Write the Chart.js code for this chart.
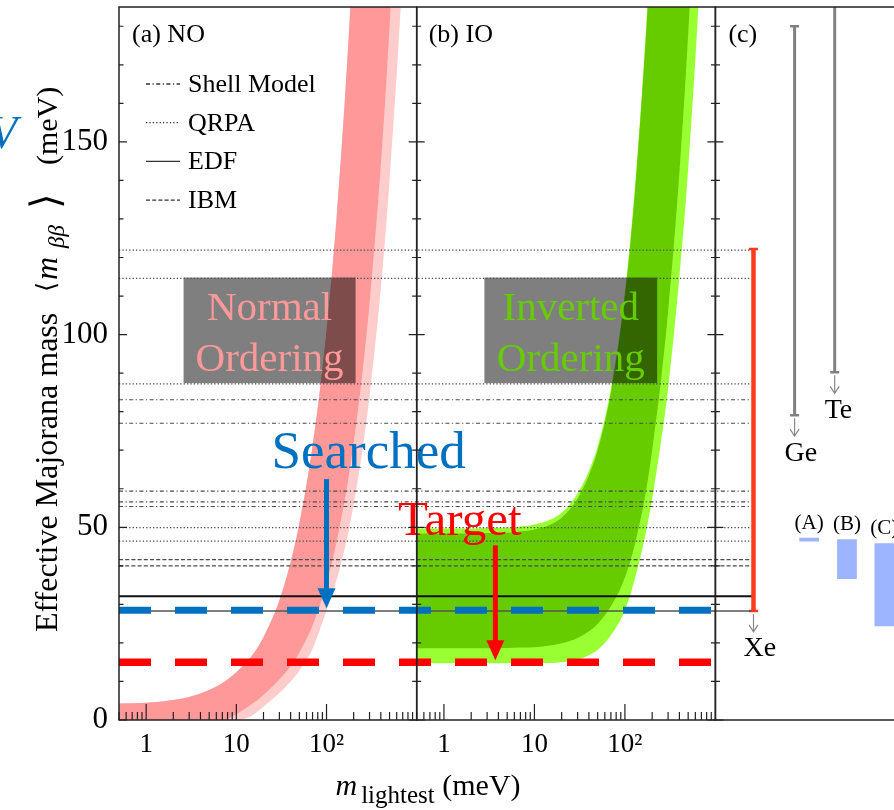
<!DOCTYPE html>
<html>
<head>
<meta charset="utf-8">
<script src="https://cdn.jsdelivr.net/npm/chart.js@4.4.1/dist/chart.umd.min.js"></script>
<style>
  html, body { margin: 0; padding: 0; background: #fff; overflow: hidden; }
  canvas { display: block; }
</style>
</head>
<body>
<canvas id="chart" width="973" height="810" style="width:973px;height:810px"></canvas>
<script>
const SERIF = "'Liberation Serif', 'DejaVu Serif', serif";

// lightest neutrino mass grid (meV), shared by both ordering bands
const mLightest = [0.5, 1, 2, 3, 5, 7, 10, 15, 20, 30, 40, 50, 70, 100, 130, 170, 200, 250, 300, 400, 500, 700, 1000];

// (a) normal ordering band, <m_bb> in meV
const noUpper      = [4.3, 4.5, 5.2, 6.0, 7.8, 9.6, 12.4, 16.8, 21.5, 31, 41, 51, 71, 101, 131, 171, 201, 251, 301, 401, 501, 701, 1001];
const noLowerDark  = [0, 0, 0, 0, 0, 0, 1.5, 4.2, 6.5, 10.5, 14, 17.5, 24.5, 35.5, 46.5, 61, 72, 90, 108, 144, 180, 252, 360];
const noLowerLight = [0, 0, 0, 0, 0, 0, 0, 1.2, 3.5, 7.0, 10, 12.8, 18.5, 28.5, 36.5, 47.5, 56, 70, 84, 112, 140, 195, 280];

// (b) inverted ordering band
const ioUpperLight = [49.7, 49.7, 49.7, 49.8, 49.9, 50.2, 50.7, 52.0, 53.8, 58.8, 64.6, 71, 86, 111, 139, 178, 207, 256, 305, 404, 504, 703, 1003];
const ioUpperDark  = [48.4, 48.4, 48.4, 48.5, 48.6, 48.9, 49.4, 50.7, 52.5, 57.5, 63.5, 70, 85, 110, 138, 177, 206, 255, 304, 403, 503, 702, 1002];
const ioLowerDark  = [18.6, 18.6, 18.6, 18.6, 18.7, 18.8, 18.9, 19.3, 19.9, 21.3, 23, 25, 29.5, 37, 46, 59, 70, 88, 106, 142, 178, 250, 356];
const ioLowerLight = [14.7, 14.7, 14.7, 14.7, 14.7, 14.7, 14.7, 14.8, 15.0, 15.7, 16.8, 18.2, 22, 28.5, 37, 48.5, 57.5, 72, 86, 115, 143, 200, 287];

// nuclear matrix element models -> sensitivity levels (meV)
const shellModel = [83.1, 77.0, 59.4, 56.6, 55.4];
const qrpa       = [121.9, 114.6, 87.2, 49.9, 46.4];
const edf        = [32.1, 28.3];
const ibm        = [41.6, 40.0];

const searchedLevel = 28.5;
const targetLevel = 15;

// (c) current limits and future ranges
const experiments    = ['Xe', 'Ge', 'Te'];
const experimentX    = [1.52, 3.16, 4.76];
const experimentLow  = [28.3, 79.1, 90.2];
const experimentHigh = [122.2, 180, 200];

const futureLabels = ['(A)', '(B)', '(C)'];
const futureX      = [3.74, 5.25, 6.74];
const futureLow    = [46.4, 36.7, 24.4];
const futureHigh   = [47.2, 46.8, 45.8];

const yTickValues = [0, 50, 100, 150];
const xTickValues = [1, 10, 100];
const xTickLabels = ['1', '10', '10²'];

const curve = (xs, ys) => xs.map((x, i) => ({ x, y: ys[i] }));

const bandLine = (data, axis, extra) => Object.assign({
  type: 'line',
  data,
  xAxisID: axis,
  yAxisID: 'y',
  borderColor: 'rgba(0,0,0,0)',
  borderWidth: 0,
  pointRadius: 0,
  cubicInterpolationMode: 'monotone',
  fill: false,
}, extra);

const rangeLine = (i, color, width) => ({
  type: 'line',
  data: [{ x: experimentX[i], y: experimentLow[i] }, { x: experimentX[i], y: experimentHigh[i] }],
  xAxisID: 'xc',
  yAxisID: 'y',
  borderColor: color,
  borderWidth: width,
  pointStyle: 'line',
  pointRadius: 4.5,
  pointBorderWidth: 2.5,
  pointBorderColor: color,
  clip: 0,
});

const datasets = [
  bandLine(curve(mLightest, noUpper), 'xa'),                                                   // 0
  bandLine(curve(mLightest, noLowerDark), 'xa', { fill: 0, backgroundColor: '#ff9999', order: 1 }),  // 1
  bandLine(curve(mLightest, noLowerLight), 'xa', { fill: 0, backgroundColor: '#ffcccc', order: 2 }), // 2
  bandLine(curve(mLightest, ioUpperLight), 'xb'),                                              // 3
  bandLine(curve(mLightest, ioLowerLight), 'xb', { fill: 3, backgroundColor: '#99ff33', order: 2 }), // 4
  bandLine(curve(mLightest, ioUpperDark), 'xb'),                                               // 5
  bandLine(curve(mLightest, ioLowerDark), 'xb', { fill: 5, backgroundColor: '#66cc00', order: 1 }),  // 6
  rangeLine(0, '#ff3b1f', 4.5),
  rangeLine(1, '#808080', 3),
  rangeLine(2, '#808080', 3),
  {
    type: 'bar',
    data: futureX.map((x, i) => ({ x, y: [futureLow[i], futureHigh[i]] })),
    xAxisID: 'xc',
    yAxisID: 'y',
    backgroundColor: '#9db4ff',
    borderWidth: 0,
    barThickness: 19,
    maxBarThickness: 19,
    grouped: false,
  },
];

const fitX = (scale) => { scale.height = 90; scale.paddingLeft = 0; scale.paddingRight = 0; };

const logAxis = (weight) => ({
  type: 'logarithmic',
  position: 'bottom',
  min: 0.5,
  max: 1000,
  stack: 'panels',
  stackWeight: weight,
  grid: { display: false },
  border: { display: false },
  afterBuildTicks: (scale) => { scale.ticks = xTickValues.map(v => ({ value: v })); },
  afterFit: fitX,
  ticks: {
    autoSkip: false,
    maxRotation: 0,
    padding: 1,
    color: '#000',
    font: { family: SERIF, size: 27 },
    callback: (value) => xTickLabels[xTickValues.indexOf(value)] ?? '',
  },
});

function text(ctx, str, x, y, font, color, align = 'left', baseline = 'middle') {
  ctx.font = font;
  ctx.fillStyle = color;
  ctx.textAlign = align;
  ctx.textBaseline = baseline;
  ctx.fillText(str, x, y);
}

function hline(ctx, x0, x1, y, color, width, dash) {
  ctx.save();
  ctx.strokeStyle = color;
  ctx.lineWidth = width;
  ctx.setLineDash(dash);
  ctx.beginPath();
  ctx.moveTo(x0, y);
  ctx.lineTo(x1, y);
  ctx.stroke();
  ctx.restore();
}

function arrow(ctx, x, y0, y1, color) {
  const headW = 18, headL = 20;
  ctx.save();
  ctx.strokeStyle = color;
  ctx.fillStyle = color;
  ctx.lineWidth = 5;
  ctx.beginPath();
  ctx.moveTo(x, y0);
  ctx.lineTo(x, y1 - headL + 2);
  ctx.stroke();
  ctx.beginPath();
  ctx.moveTo(x - headW / 2, y1 - headL);
  ctx.lineTo(x + headW / 2, y1 - headL);
  ctx.lineTo(x, y1);
  ctx.closePath();
  ctx.fill();
  ctx.restore();
}

function openArrow(ctx, x, y0, y1) {
  ctx.save();
  ctx.strokeStyle = '#8a8a8a';
  ctx.lineWidth = 1.2;
  ctx.beginPath();
  ctx.moveTo(x, y0);
  ctx.lineTo(x, y1);
  ctx.moveTo(x - 4.5, y1 - 7);
  ctx.lineTo(x, y1);
  ctx.lineTo(x + 4.5, y1 - 7);
  ctx.stroke();
  ctx.restore();
}

const DASH = {
  shell: [4, 2.5, 1.2, 2.5],
  qrpa: [1.3, 2.1],
  edf: [],
  ibm: [4, 2.2],
};

const decor = {
  id: 'decor',
  afterDatasetsDraw(chart) {
    const { ctx, chartArea } = chart;
    const { xa, xb, xc, y } = chart.scales;
    const top = chartArea.top, bottom = chartArea.bottom;

    // ordering boxes (semi-transparent dark overlay)
    const boxes = [
      { s: xa, m: [2.6, 210], lines: ['Normal', 'Ordering'], color: '#ff9999' },
      { s: xb, m: [2.8, 227], lines: ['Inverted', 'Ordering'], color: '#66cc00' },
    ];
    boxes.forEach(b => {
      const x0 = b.s.getPixelForValue(b.m[0]), x1 = b.s.getPixelForValue(b.m[1]);
      const y0 = y.getPixelForValue(114.8), y1 = y.getPixelForValue(87.4);
      ctx.fillStyle = 'rgba(0,0,0,0.5)';
      ctx.fillRect(x0, y0, x1 - x0, y1 - y0);
      const cx = (x0 + x1) / 2, cy = (y0 + y1) / 2;
      text(ctx, b.lines[0], cx, cy - 10, `41px ${SERIF}`, b.color, 'center', 'alphabetic');
      text(ctx, b.lines[1], cx, cy + 41, `41px ${SERIF}`, b.color, 'center', 'alphabetic');
    });

    // model lines, from the left edge up to the Xe range
    const x0 = xa.left, x1 = xc.getPixelForValue(experimentX[0]) - 2;
    shellModel.forEach(v => hline(ctx, x0, x1, y.getPixelForValue(v), '#4a4a4a', 1.2, DASH.shell));
    qrpa.forEach(v => hline(ctx, x0, x1, y.getPixelForValue(v), '#4a4a4a', 1.2, DASH.qrpa));
    ibm.forEach(v => hline(ctx, x0, x1, y.getPixelForValue(v), '#4a4a4a', 1.2, DASH.ibm));
    hline(ctx, x0, x1, y.getPixelForValue(edf[0]), '#111', 2, DASH.edf);
    hline(ctx, x0, x1, y.getPixelForValue(edf[1]), '#555', 1.5, DASH.edf);

    // searched / target levels
    hline(ctx, xa.left, xb.right, y.getPixelForValue(searchedLevel), '#0070c0', 7, [32, 24]);
    hline(ctx, xa.left, xb.right, y.getPixelForValue(targetLevel), '#ff0000', 7.5, [32, 24]);

    arrow(ctx, xa.getPixelForValue(100), y.getPixelForValue(62.5), y.getPixelForValue(29), '#0070c0');
    arrow(ctx, xb.getPixelForValue(3.7), y.getPixelForValue(45.3), y.getPixelForValue(15.5), '#ff0000');
    text(ctx, 'Searched', xa.getPixelForValue(293), y.getPixelForValue(65.4), `53px ${SERIF}`, '#0070c0', 'center', 'alphabetic');
    text(ctx, 'Target', xb.getPixelForValue(1.5), y.getPixelForValue(48), `49px ${SERIF}`, '#ff0000', 'center', 'alphabetic');

    // panel (c) annotations
    experiments.forEach((name, i) => {
      const px = xc.getPixelForValue(experimentX[i]);
      const pb = y.getPixelForValue(experimentLow[i]);
      openArrow(ctx, px, pb + 3, pb + 21);
      text(ctx, name, px - 10, pb + 38, `28px ${SERIF}`, '#000');
    });
    futureLabels.forEach((name, i) => {
      text(ctx, name, xc.getPixelForValue(futureX[i]), y.getPixelForValue(futureHigh[i]) - 15, `21px ${SERIF}`, '#000', 'center');
    });

    // frames
    ctx.save();
    ctx.strokeStyle = '#222';
    ctx.lineWidth = 1.5;
    [xa, xb, xc].forEach(s => ctx.strokeRect(s.left, top, s.right - s.left, bottom - top));

    // inward y ticks on panel borders
    ctx.lineWidth = 1.2;
    ctx.beginPath();
    const yBorders = [[xa.left, 1], [xa.right, -1], [xb.left, 1], [xb.right, -1], [xc.left, 1]];
    yBorders.forEach(([bx, dir]) => {
      for (let v = 0; v <= 180; v += 10) {
        const py = y.getPixelForValue(v);
        const len = v % 50 === 0 ? 8 : 4.5;
        ctx.moveTo(bx, py);
        ctx.lineTo(bx + dir * len, py);
      }
    });
    // inward log x ticks
    [xa, xb].forEach(s => {
      [0.1, 1, 10, 100].forEach(dec => {
        for (let k = 1; k <= 9; k++) {
          const v = dec * k;
          if (v < 0.5 || v >= 1000) continue;
          const px = s.getPixelForValue(v);
          const len = k === 1 ? 16 : 8;
          ctx.moveTo(px, bottom);
          ctx.lineTo(px, bottom - len);
        }
      });
    });
    ctx.stroke();
    ctx.restore();

    // legend
    const legend = [['Shell Model', DASH.shell], ['QRPA', DASH.qrpa], ['EDF', DASH.edf], ['IBM', DASH.ibm]];
    legend.forEach(([label, dash], i) => {
      const ly = 84 + i * 38.7;
      hline(ctx, 146, 180, ly, '#333', 1.3, dash);
      text(ctx, label, 188, ly + 1, `26px ${SERIF}`, '#000');
    });

    // panel labels
    text(ctx, '(a) NO', xa.left + 13, 35, `26px ${SERIF}`, '#000');
    text(ctx, '(b) IO', xb.left + 12, 35, `26px ${SERIF}`, '#000');
    text(ctx, '(c)', xc.left + 13, 35, `26px ${SERIF}`, '#000');
  },
  afterDraw(chart) {
    const { ctx } = chart;
    // y axis title
    ctx.save();
    ctx.translate(57, 632);
    ctx.rotate(-Math.PI / 2);
    ctx.fillStyle = '#000';
    ctx.textAlign = 'left';
    ctx.textBaseline = 'alphabetic';
    ctx.font = `32px ${SERIF}`;
    ctx.fillText('Effective Majorana mass', 0, 0);
    ctx.font = `26px ${SERIF}`;
    ctx.fillText('⟨', 340, -2);
    ctx.font = `italic 32px ${SERIF}`;
    ctx.fillText('m', 352, 0);
    ctx.font = `italic 23px ${SERIF}`;
    ctx.fillText('ββ', 384, 7);
    ctx.font = `40px ${SERIF}`;
    ctx.fillText('⟩', 423, 2);
    ctx.font = `30px ${SERIF}`;
    ctx.fillText('(meV)', 467, 0);
    ctx.restore();

    // x axis title
    ctx.save();
    ctx.fillStyle = '#000';
    ctx.textBaseline = 'alphabetic';
    ctx.textAlign = 'left';
    ctx.font = `italic 30px ${SERIF}`;
    const w1 = ctx.measureText('m').width;
    ctx.font = `25px ${SERIF}`;
    const w2 = ctx.measureText('lightest').width;
    ctx.font = `30px ${SERIF}`;
    const w3 = ctx.measureText(' (meV)').width;
    let x = 428 - (w1 + 4 + w2 + w3) / 2;
    ctx.font = `italic 30px ${SERIF}`;
    ctx.fillText('m', x, 795);
    x += w1 + 4;
    ctx.font = `25px ${SERIF}`;
    ctx.fillText('lightest', x, 803);
    x += w2;
    ctx.font = `30px ${SERIF}`;
    ctx.fillText(' (meV)', x, 795);
    ctx.restore();

    // clipped blue glyph at the left edge
    text(ctx, 'V', 17, 148, `italic 46px ${SERIF}`, '#0070c0', 'right', 'alphabetic');
  },
};

new Chart(document.getElementById('chart'), {
  type: 'line',
  data: { datasets },
  options: {
    responsive: false,
    animation: false,
    devicePixelRatio: 1,
    events: [],
    layout: { padding: { top: 7, left: 0, right: 0, bottom: 0 } },
    elements: { line: { capBezierPoints: false } },
    plugins: { legend: { display: false }, tooltip: { enabled: false } },
    scales: {
      xa: logAxis(297),
      xb: logAxis(298),
      xc: {
        type: 'linear',
        position: 'bottom',
        min: 0,
        max: 10,
        offset: false,
        stack: 'panels',
        stackWeight: 250,
        grid: { display: false, offset: false },
        border: { display: false },
        ticks: { display: false },
        afterFit: fitX,
      },
      y: {
        type: 'linear',
        position: 'left',
        min: 0,
        max: 185,
        grid: { display: false },
        border: { display: false },
        afterBuildTicks: (scale) => { scale.ticks = yTickValues.map(v => ({ value: v })); },
        afterFit: (scale) => { scale.width = 119; scale.paddingTop = 0; scale.paddingBottom = 0; },
        ticks: {
          padding: 3,
          color: '#000',
          font: { family: SERIF, size: 31 },
        },
      },
    },
  },
  plugins: [decor],
});
</script>
</body>
</html>
